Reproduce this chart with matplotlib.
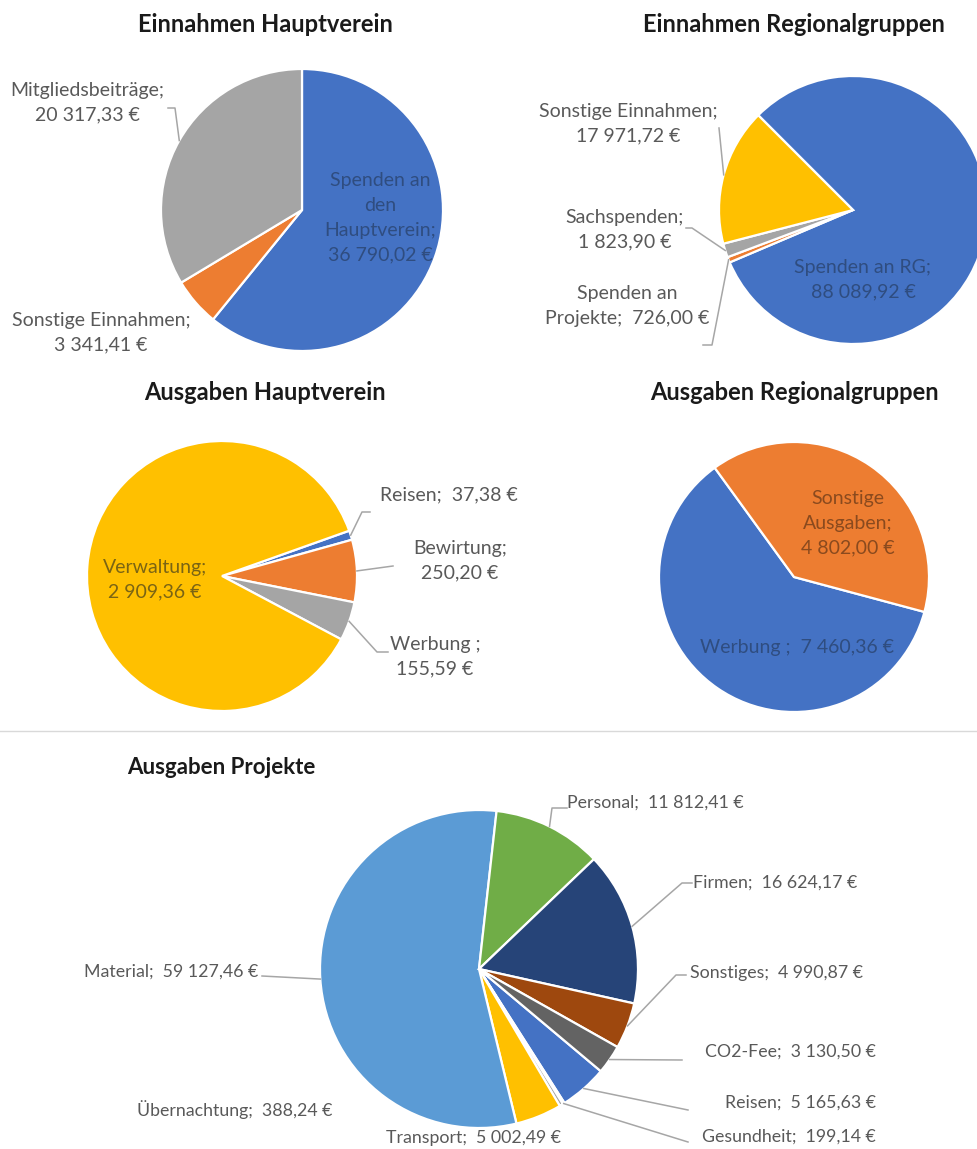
import matplotlib

matplotlib.use("Agg")
import matplotlib.pyplot as plt
from matplotlib import font_manager
from matplotlib.lines import Line2D
import numpy as np

W, H = 977, 1149

# Office palette
BLUE = "#4472C4"
ORANGE = "#ED7D31"
GREY = "#A5A5A5"
YELLOW = "#FFC000"
LIGHTBLUE = "#5B9BD5"
GREEN = "#70AD47"
NAVY = "#264478"
BROWN = "#9E480E"
DARKGREY = "#636363"

TEXT = "#595959"
ON_BLUE = "#2F4D80"
ON_YELLOW = "#7A6414"
ON_ORANGE = "#8A4A1E"
LEADER = "#A6A6A6"

# --- data -----------------------------------------------------------------
hv_in_names = ["Spenden an\nden\nHauptverein", "Sonstige Einnahmen", "Mitgliedsbeiträge"]
hv_in_values = [36790.02, 3341.41, 20317.33]

rg_in_names = ["Spenden an RG", "Spenden an\nProjekte", "Sachspenden", "Sonstige Einnahmen"]
rg_in_values = [88089.92, 726.00, 1823.90, 17971.72]

hv_out_names = ["Reisen", "Bewirtung", "Werbung ", "Verwaltung"]
hv_out_values = [37.38, 250.20, 155.59, 2909.36]

rg_out_names = ["Werbung ", "Sonstige\nAusgaben"]
rg_out_values = [7460.36, 4802.00]

pr_names = ["Reisen", "Gesundheit", "Übernachtung", "Transport", "Material",
            "Personal", "Firmen", "Sonstiges", "CO2-Fee"]
pr_values = [5165.63, 199.14, 388.24, 5002.49, 59127.46,
             11812.41, 16624.17, 4990.87, 3130.50]

available = {f.name for f in font_manager.fontManager.ttflist}
MAIN = "Lato" if "Lato" in available else "DejaVu Sans"
NARROW = "Liberation Sans Narrow" if "Liberation Sans Narrow" in available else MAIN


def eur(v):
    s = f"{v:,.2f}".replace(",", " ").replace(".", ",")
    return s + " €"


def fig_xy(x, y):
    return x / W, 1 - y / H


fig = plt.figure(figsize=(W / 100, H / 100), dpi=100)
fig.patch.set_facecolor("white")


def draw_pie(title, title_spec, names, values, colors, center, radius, first_angle,
             labels, family=MAIN, size=14):
    cx, cy = center
    ax = fig.add_axes([(cx - radius) / W, 1 - (cy + radius) / H, 2 * radius / W, 2 * radius / H])
    wedges, _ = ax.pie(values, colors=colors, startangle=90 - first_angle, counterclock=False,
                       wedgeprops=dict(edgecolor="white", linewidth=1.6))
    ax.set_xlim(-1, 1)
    ax.set_ylim(-1, 1)

    tx, ty, tha, tsize = title_spec
    fig.text(*fig_xy(tx, ty), title, ha=tha, va="center", fontsize=tsize, fontweight="bold",
             family=MAIN, color="#1a1a1a")

    inv = fig.transFigure.inverted()
    for w, name, v, spec in zip(wedges, names, values, labels):
        x, y, ha, sep, color, path = spec
        fig.text(*fig_xy(x, y), f"{name};{sep}{eur(v)}", ha=ha, va="center", ma="center",
                 color=color, fontsize=size, family=family, linespacing=1.55)
        if path is None:
            continue
        mid = np.deg2rad((w.theta1 + w.theta2) / 2)
        anchor = inv.transform(ax.transData.transform((np.cos(mid), np.sin(mid))))
        pts = [fig_xy(px, py) for px, py in path] + [tuple(anchor)]
        xs, ys = zip(*pts)
        fig.add_artist(Line2D(xs, ys, transform=fig.transFigure, color=LEADER, lw=1.1))


draw_pie("Einnahmen Hauptverein", (265, 25, "center", 17),
         hv_in_names, hv_in_values, [BLUE, ORANGE, GREY],
         (302, 210), 141, 0,
         [(380, 218, "center", "\n", ON_BLUE, None),
          (101, 333, "center", "\n", TEXT, None),
          (87, 103, "center", "\n", TEXT, [(168, 108), (175, 108)])])

draw_pie("Einnahmen Regionalgruppen", (794, 25, "center", 17),
         rg_in_names, rg_in_values, [BLUE, ORANGE, GREY, YELLOW],
         (853, 210), 134, 315,
         [(863, 280, "center", "\n", ON_BLUE, None),
          (627, 306, "center", "  ", TEXT, [(703, 345), (712, 345)]),
          (625, 230, "center", "\n", TEXT, [(686, 228), (692, 228)]),
          (628, 124, "center", "\n", TEXT, [(719, 128)])])

draw_pie("Ausgaben Hauptverein", (265, 393, "center", 17),
         hv_out_names, hv_out_values, [BLUE, ORANGE, GREY, YELLOW],
         (222, 576), 135, 70.4,
         [(449, 495, "center", "  ", TEXT, [(370, 512), (362, 512)]),
          (460, 561, "center", "\n", TEXT, [(393, 566)]),
          (435, 657, "center", "\n", TEXT, [(388, 652), (377, 652)]),
          (155, 580, "center", "\n", ON_YELLOW, None)])

draw_pie("Ausgaben Regionalgruppen", (794, 393, "center", 17),
         rg_out_names, rg_out_values, [BLUE, ORANGE],
         (794, 577), 135, 105,
         [(797, 647, "center", "  ", ON_BLUE, None),
          (848, 523, "center", "\n", ON_ORANGE, None)])

# divider between the association charts and the project chart
fig.add_artist(Line2D([0, 1], [1 - 731 / H] * 2, transform=fig.transFigure, color="#D9D9D9", lw=1))

draw_pie("Ausgaben Projekte", (127, 768, "left", 16),
         pr_names, pr_values,
         [BLUE, ORANGE, GREY, YELLOW, LIGHTBLUE, GREEN, NAVY, BROWN, DARKGREY],
         (479, 969), 159, 130,
         [(876, 1103, "right", "  ", TEXT, [(688, 1110)]),
          (876, 1137, "right", "  ", TEXT, [(688, 1142)]),
          (235, 1110, "center", "  ", TEXT, None),
          (473, 1138, "center", "  ", TEXT, None),
          (258, 972, "right", "  ", TEXT, [(262, 976)]),
          (567, 803, "left", "  ", TEXT, [(567, 808), (552, 808)]),
          (693, 883, "left", "  ", TEXT, [(692, 883), (682, 883)]),
          (690, 973, "left", "  ", TEXT, [(686, 975), (676, 975)]),
          (876, 1052, "right", "  ", TEXT, [(682, 1060)])],
         family=NARROW, size=12.8)

fig.savefig("out.png", dpi=100, facecolor="white")
